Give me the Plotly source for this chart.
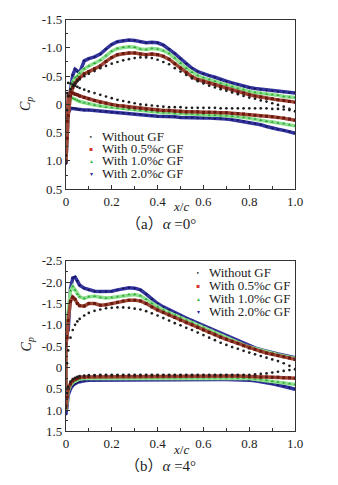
import plotly.graph_objects as go

# ---------------- data ----------------
X = [0, 0.005, 0.01, 0.02, 0.03, 0.04, 0.05, 0.06, 0.08, 0.1,
     0.125, 0.15, 0.175, 0.2, 0.225, 0.25, 0.275, 0.3, 0.325, 0.35,
     0.375, 0.4, 0.425, 0.45, 0.475, 0.5, 0.525, 0.55, 0.575, 0.6,
     0.625, 0.65, 0.675, 0.7, 0.725, 0.75, 0.775, 0.8, 0.825, 0.85,
     0.875, 0.9, 0.925, 0.95, 0.975, 1.0]

series_names = ["Without GF", "With 0.5%<i>c</i> GF", "With 1.0%<i>c</i> GF", "With 2.0%<i>c</i> GF"]

# (a) alpha = 0 deg
a_black_up = [0.9, 0.1, -0.15, -0.27, -0.33, -0.37, -0.41, -0.44, -0.5, -0.54,
              -0.59, -0.64, -0.68, -0.72, -0.75, -0.78, -0.8, -0.82, -0.83, -0.83,
              -0.82, -0.79, -0.75, -0.71, -0.64, -0.58, -0.52, -0.46, -0.41, -0.37,
              -0.33, -0.3, -0.27, -0.24, -0.21, -0.18, -0.15, -0.12, -0.1, -0.07,
              -0.05, -0.02, 0.01, 0.04, 0.08, 0.12]
a_black_lo = [0.9, -0.2, -0.38, -0.37, -0.35, -0.33, -0.31, -0.29, -0.26, -0.23,
              -0.2, -0.17, -0.14, -0.11, -0.08, -0.06, -0.04, -0.02, 0.0, 0.01,
              0.02, 0.03, 0.04, 0.05, 0.05, 0.05, 0.06, 0.06, 0.06, 0.06,
              0.06, 0.06, 0.07, 0.07, 0.07, 0.07, 0.07, 0.07, 0.07, 0.07,
              0.07, 0.08, 0.08, 0.09, 0.1, 0.12]
a_red_up = [1.0, 0.6, 0.2, -0.15, -0.3, -0.38, -0.43, -0.47, -0.54, -0.58,
            -0.63, -0.68, -0.76, -0.83, -0.88, -0.9, -0.91, -0.91, -0.89, -0.88,
            -0.89, -0.88, -0.85, -0.8, -0.72, -0.64, -0.56, -0.49, -0.44, -0.41,
            -0.38, -0.35, -0.31, -0.28, -0.25, -0.22, -0.2, -0.17, -0.15, -0.13,
            -0.11, -0.1, -0.08, -0.07, -0.05, -0.04]
a_red_lo = [1.0, 0.3, -0.15, -0.22, -0.2, -0.18, -0.17, -0.15, -0.12, -0.1,
            -0.07, -0.04, -0.02, 0.0, 0.02, 0.03, 0.05, 0.06, 0.07, 0.08,
            0.09, 0.1, 0.11, 0.11, 0.12, 0.12, 0.13, 0.13, 0.13, 0.14,
            0.14, 0.14, 0.15, 0.15, 0.16, 0.16, 0.17, 0.18, 0.19, 0.2,
            0.21, 0.22, 0.23, 0.24, 0.26, 0.28]
a_green_up = [1.0, 0.5, 0.1, -0.2, -0.4, -0.47, -0.5, -0.55, -0.63, -0.68,
              -0.73, -0.78, -0.86, -0.94, -0.99, -1.01, -1.02, -1.01, -0.98, -0.97,
              -0.99, -0.98, -0.95, -0.9, -0.82, -0.73, -0.64, -0.57, -0.51, -0.47,
              -0.44, -0.41, -0.37, -0.34, -0.31, -0.28, -0.26, -0.23, -0.21, -0.2,
              -0.18, -0.17, -0.16, -0.14, -0.13, -0.12]
a_green_lo = [1.0, 0.4, -0.02, -0.1, -0.11, -0.09, -0.07, -0.05, -0.03, -0.01,
              0.01, 0.03, 0.05, 0.06, 0.07, 0.08, 0.09, 0.1, 0.11, 0.12,
              0.13, 0.14, 0.15, 0.15, 0.16, 0.16, 0.17, 0.17, 0.18, 0.18,
              0.19, 0.19, 0.2, 0.2, 0.21, 0.22, 0.23, 0.24, 0.26, 0.28,
              0.3, 0.31, 0.33, 0.34, 0.36, 0.38]
a_blue_up = [1.05, 0.4, 0.0, -0.25, -0.52, -0.62, -0.58, -0.56, -0.77, -0.81,
             -0.84, -0.89, -0.98, -1.06, -1.11, -1.13, -1.14, -1.13, -1.11, -1.09,
             -1.1, -1.09, -1.05, -0.98, -0.9, -0.81, -0.72, -0.64, -0.58, -0.54,
             -0.51, -0.48, -0.44, -0.41, -0.38, -0.35, -0.32, -0.3, -0.28, -0.27,
             -0.25, -0.24, -0.23, -0.22, -0.21, -0.2]
a_blue_lo = [1.05, 0.6, 0.15, 0.07, 0.06, 0.07, 0.08, 0.09, 0.1, 0.1,
             0.11, 0.12, 0.13, 0.14, 0.15, 0.15, 0.16, 0.17, 0.18, 0.19,
             0.2, 0.21, 0.21, 0.22, 0.22, 0.23, 0.23, 0.23, 0.24, 0.24,
             0.24, 0.25, 0.25, 0.26, 0.27, 0.28, 0.3, 0.32, 0.34, 0.36,
             0.39, 0.42, 0.44, 0.46, 0.48, 0.51]

# (b) alpha = 4 deg
b_black_up = [0.5, -0.1, -0.4, -0.7, -0.88, -1.0, -1.08, -1.14, -1.22, -1.28,
              -1.33, -1.36, -1.39, -1.4, -1.41, -1.41, -1.4, -1.38, -1.36, -1.32,
              -1.27, -1.22, -1.16, -1.1, -1.04, -0.99, -0.93, -0.88, -0.82, -0.76,
              -0.7, -0.64, -0.58, -0.53, -0.48, -0.44, -0.39, -0.35, -0.31, -0.27,
              -0.23, -0.19, -0.15, -0.1, -0.04, 0.04]
b_black_lo = [0.9, 0.6, 0.45, 0.33, 0.27, 0.24, 0.22, 0.2, 0.19, 0.18,
              0.18, 0.17, 0.17, 0.17, 0.17, 0.17, 0.17, 0.17, 0.17, 0.17,
              0.17, 0.17, 0.17, 0.17, 0.17, 0.17, 0.17, 0.17, 0.17, 0.17,
              0.17, 0.17, 0.17, 0.17, 0.17, 0.17, 0.17, 0.17, 0.16, 0.15,
              0.14, 0.12, 0.1, 0.08, 0.06, 0.04]
b_red_up = [-0.55, -0.7, -1.1, -1.55, -1.65, -1.6, -1.5, -1.45, -1.44, -1.5,
            -1.5, -1.46, -1.47, -1.5, -1.53, -1.56, -1.58, -1.58, -1.56, -1.5,
            -1.42, -1.35, -1.29, -1.23, -1.17, -1.11, -1.05, -1.0, -0.94, -0.88,
            -0.82, -0.77, -0.71, -0.66, -0.61, -0.56, -0.51, -0.46, -0.42, -0.38,
            -0.34, -0.31, -0.28, -0.25, -0.22, -0.19]
b_red_lo = [0.95, 0.7, 0.5, 0.38, 0.31, 0.27, 0.25, 0.23, 0.22, 0.21,
            0.2, 0.2, 0.2, 0.2, 0.2, 0.2, 0.2, 0.2, 0.2, 0.2,
            0.2, 0.2, 0.2, 0.2, 0.2, 0.2, 0.2, 0.2, 0.2, 0.2,
            0.2, 0.2, 0.2, 0.2, 0.2, 0.2, 0.2, 0.21, 0.21, 0.22,
            0.22, 0.23, 0.23, 0.24, 0.24, 0.25]
b_green_up = [-0.75, -0.9, -1.3, -1.8, -1.9, -1.82, -1.72, -1.66, -1.62, -1.66,
              -1.67, -1.64, -1.63, -1.64, -1.66, -1.68, -1.71, -1.71, -1.68, -1.6,
              -1.5, -1.42, -1.35, -1.29, -1.23, -1.17, -1.11, -1.05, -0.99, -0.93,
              -0.87, -0.81, -0.75, -0.69, -0.64, -0.58, -0.53, -0.48, -0.44, -0.4,
              -0.36, -0.33, -0.3, -0.27, -0.24, -0.21]
b_green_lo = [1.0, 0.8, 0.55, 0.42, 0.35, 0.31, 0.29, 0.27, 0.26, 0.25,
              0.24, 0.24, 0.24, 0.24, 0.24, 0.24, 0.24, 0.24, 0.24, 0.24,
              0.24, 0.24, 0.24, 0.24, 0.24, 0.24, 0.24, 0.24, 0.24, 0.24,
              0.24, 0.24, 0.24, 0.24, 0.24, 0.25, 0.25, 0.26, 0.27, 0.28,
              0.3, 0.32, 0.34, 0.36, 0.38, 0.4]
b_blue_up = [-0.7, -1.2, -0.85, -1.85, -2.1, -2.12, -2.03, -1.93, -1.86, -1.82,
             -1.79, -1.78, -1.78, -1.79, -1.82, -1.85, -1.87, -1.86, -1.82, -1.72,
             -1.6, -1.5, -1.42, -1.35, -1.28, -1.22, -1.16, -1.1, -1.04, -0.98,
             -0.92, -0.86, -0.8, -0.74, -0.68, -0.62, -0.56, -0.51, -0.46, -0.42,
             -0.38, -0.35, -0.32, -0.29, -0.26, -0.23]
b_blue_lo = [1.1, 0.9, 0.65, 0.5, 0.42, 0.38, 0.35, 0.33, 0.31, 0.3,
             0.29, 0.29, 0.28, 0.28, 0.28, 0.28, 0.28, 0.28, 0.28, 0.28,
             0.28, 0.28, 0.28, 0.28, 0.28, 0.28, 0.28, 0.28, 0.28, 0.28,
             0.28, 0.28, 0.28, 0.28, 0.28, 0.28, 0.29, 0.3, 0.31, 0.33,
             0.35, 0.38, 0.41, 0.44, 0.47, 0.51]

x_tickvals = [0, 0.2, 0.4, 0.6, 0.8, 1.0]
x_ticktext = ["0", "0.2", "0.4", "0.6", "0.8", "1.0"]
a_y_tickvals = [-1.5, -1.0, -0.5, 0, 0.5, 1.0, 1.5]
a_y_ticktext = ["-1.5", "-1.0", "-0.5", "0", "0.5", "1.0", "0.5"]
b_y_tickvals = [-2.5, -2.0, -1.5, -1.0, -0.5, 0, 0.5, 1.0, 1.5]
b_y_ticktext = ["-2.5", "-2.0", "-1.5", "-1.0", "-0.5", "0", "0.5", "1.0", "1.5"]
captions = ["（a）<i>α</i> =0°", "（b）<i>α</i> =4°"]

# ---------------- styling ----------------
W, H = 338, 485
SERIF = "Liberation Serif"
band_styles = [  # line colour, marker colour, marker symbol
    ("#a04838", "#6a1810", "square"),
    ("#8ee08e", "#2fa83a", "triangle-up"),
    ("#34349e", "#14145a", "triangle-down"),
]
legend_glyph = [("•", "#222222"), ("▪", "#d23a2e"), ("▴", "#3cbf4a"), ("▾", "#2a2a96")]

def px_x(p):
    return p / W

def px_y(p):
    return 1 - p / H

fig = go.Figure()

panels = [
    dict(xa="x", ya="y", data=[(a_red_up, a_red_lo), (a_green_up, a_green_lo), (a_blue_up, a_blue_lo)],
         black=(a_black_up, a_black_lo)),
    dict(xa="x2", ya="y2", data=[(b_red_up, b_red_lo), (b_green_up, b_green_lo), (b_blue_up, b_blue_lo)],
         black=(b_black_up, b_black_lo)),
]

for p in panels:
    for (up, lo), (lc, mc, sym) in reversed(list(zip(p["data"], band_styles))):
        xs = X[::-1] + X
        ys = lo[::-1] + up
        fig.add_trace(go.Scatter(x=xs, y=ys, xaxis=p["xa"], yaxis=p["ya"], mode="lines+markers",
                                 line=dict(color=lc, width=3.5),
                                 marker=dict(symbol=sym, size=3, color=mc, line=dict(width=0)),
                                 showlegend=False, hoverinfo="skip"))
    up, lo = p["black"]
    fig.add_trace(go.Scatter(x=X[::-1] + X, y=lo[::-1] + up, xaxis=p["xa"], yaxis=p["ya"], mode="markers",
                             marker=dict(symbol="circle", size=2.7, color="#1e1e1e"),
                             showlegend=False, hoverinfo="skip"))

tickfont = dict(family=SERIF, size=13, color="#222")
common_x = dict(range=[0, 1], tickvals=x_tickvals, ticktext=x_ticktext, ticks="inside", ticklen=4,
                tickcolor="#333", showline=True, linecolor="#333", linewidth=1, mirror=True,
                showgrid=False, zeroline=False, tickfont=tickfont,
                minor=dict(tickmode="linear", tick0=0, dtick=0.1, ticks="inside", ticklen=3, tickcolor="#333"),
                domain=[px_x(65), px_x(302)])
common_y = dict(ticks="inside", ticklen=4, tickcolor="#333", showline=True, linecolor="#333", linewidth=1,
                mirror=True, showgrid=False, zeroline=False, tickfont=tickfont,
                minor=dict(tickmode="linear", tick0=0, dtick=0.25, ticks="inside", ticklen=2.5, tickcolor="#333"))

fig.update_layout(
    width=W, height=H, margin=dict(l=0, r=0, t=0, b=0),
    paper_bgcolor="white", plot_bgcolor="white", showlegend=False,
    xaxis=dict(common_x, anchor="y"),
    yaxis=dict(common_y, anchor="x", range=[1.5, -1.5], tickvals=a_y_tickvals, ticktext=a_y_ticktext,
               domain=[px_y(188), px_y(13)]),
    xaxis2=dict(common_x, anchor="y2"),
    yaxis2=dict(common_y, anchor="x2", range=[1.5, -2.5], tickvals=b_y_tickvals, ticktext=b_y_ticktext,
                domain=[px_y(438), px_y(262)]),
)

ann = []
for cy_cp, cy_xc, cy_cap, cap in [(100, 206, 224, captions[0]), (348, 457, 474, captions[1])]:
    ann.append(dict(text="<i>C<sub>p</sub></i>", x=px_x(25), y=px_y(cy_cp), textangle=-90,
                    font=dict(family=SERIF, size=14, color="#222")))
    ann.append(dict(text="<i>x</i>/<i>c</i>", x=px_x(184), y=px_y(cy_xc),
                    font=dict(family=SERIF, size=13, color="#222")))
    ann.append(dict(text=cap, x=px_x(163), y=px_y(cy_cap),
                    font=dict(family="Liberation Serif, Noto Sans CJK SC", size=15, color="#222")))

for mx, tx, rows in [(91, 100, [133, 145.5, 158, 171]), (202, 211, [273, 286.7, 300, 313.3])]:
    for (g, col), name, ry in zip(legend_glyph, series_names, rows):
        ann.append(dict(text=g, x=px_x(mx), y=px_y(ry), xanchor="center", height=10,
                        font=dict(family="DejaVu Sans", size=6, color=col)))
        ann.append(dict(text=name, x=px_x(tx), y=px_y(ry), xanchor="left", height=12,
                        font=dict(family=SERIF, size=13, color="#222")))

for a in ann:
    a.update(xref="paper", yref="paper", showarrow=False, yanchor="middle")
    a.setdefault("xanchor", "center")
fig.update_layout(annotations=ann)

fig.write_html("out.html", config={"displayModeBar": False},
               post_script="document.body.style.margin='0px';document.body.style.padding='0px';")
